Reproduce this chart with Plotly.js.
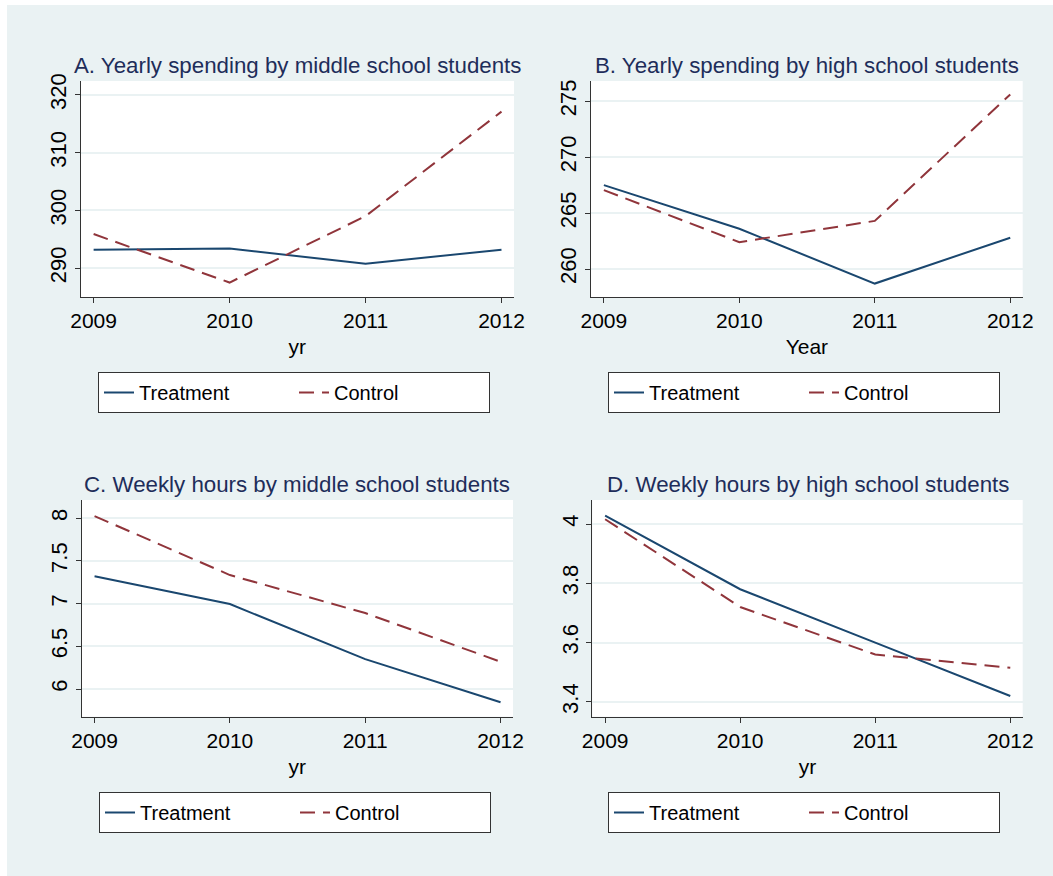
<!DOCTYPE html>
<html>
<head>
<meta charset="utf-8">
<script src="https://cdn.plot.ly/plotly-3.0.1.min.js"></script>
<style>html,body{margin:0;padding:0;background:#fff;}#chart{width:1053px;height:876px;}</style>
</head>
<body>
<div id="chart"></div>
<script>
// ---- data ----
var years = [2009, 2010, 2011, 2012];
var spendMiddleTreat = [293.2, 293.4, 290.75, 293.2];
var spendMiddleCtrl  = [295.9, 287.5, 299.0, 317.1];
var spendHighTreat   = [267.5, 263.6, 258.7, 262.8];
var spendHighCtrl    = [267.05, 262.4, 264.3, 275.6];
var hoursMiddleTreat = [7.32, 6.995, 6.35, 5.845];
var hoursMiddleCtrl  = [8.026, 7.335, 6.89, 6.32];
var hoursHighTreat   = [4.028, 3.78, 3.6, 3.42];
var hoursHighCtrl    = [4.016, 3.72, 3.56, 3.515];

var panelTitles = ["A. Yearly spending by middle school students",
                   "B. Yearly spending by high school students",
                   "C. Weekly hours by middle school students",
                   "D. Weekly hours by high school students"];
var xTitles = ["yr", "Year", "yr", "yr"];
var yTicksA = [290, 300, 310, 320];
var yTicksB = [260, 265, 270, 275];
var yTicksC = [6, 6.5, 7, 7.5, 8];
var yTicksD = [3.4, 3.6, 3.8, 4];
var seriesNames = ["Treatment", "Control"];

// ---- styling ----
var FONT = "Liberation Sans, Arial, Helvetica, sans-serif";
var BG = "#EAF2F3";
var TREAT = "#1a476f";
var CTRL = "#90353b";
var W = 1053, H = 876;

var treatSets = [spendMiddleTreat, spendHighTreat, hoursMiddleTreat, hoursHighTreat];
var ctrlSets  = [spendMiddleCtrl, spendHighCtrl, hoursMiddleCtrl, hoursHighCtrl];
var legendIds = ["legend", "legend2", "legend3", "legend4"];

var data = [];
for (var i = 0; i < 4; i++) {
  var ax = i === 0 ? "" : String(i + 1);
  data.push({x: years, y: treatSets[i], type: "scatter", mode: "lines",
    name: seriesNames[0], xaxis: "x" + ax, yaxis: "y" + ax, legend: legendIds[i],
    line: {color: TREAT, width: 2}, hoverinfo: "x+y"});
  data.push({x: years, y: ctrlSets[i], type: "scatter", mode: "lines",
    name: seriesNames[1], xaxis: "x" + ax, yaxis: "y" + ax, legend: legendIds[i],
    line: {color: CTRL, width: 2, dash: "15px,8px"}, hoverinfo: "x+y"});
}

// pixel geometry -> paper
function px(x) { return x / W; }
function py(y) { return 1 - y / H; }
var doms = [
  {x: [px(80.7), px(514)],   y: [py(297), py(81)]},
  {x: [px(591), px(1022.7)], y: [py(297), py(81)]},
  {x: [px(81.7), px(513)],   y: [py(716.7), py(500)]},
  {x: [px(592.3), px(1022.7)], y: [py(716.7), py(500)]}
];
var yRanges = [[285.0, 322.4], [257.5, 276.8], [5.676, 8.214], [3.35, 4.081]];
var yTicks = [yTicksA, yTicksB, yTicksC, yTicksD];
var xRange = [2008.905, 2012.092];

var layout = {
  width: W, height: H,
  margin: {l: 0, r: 0, t: 0, b: 0},
  paper_bgcolor: BG,
  plot_bgcolor: "#ffffff",
  font: {family: FONT, color: "#000", size: 20},
  showlegend: true,
  annotations: [],
  shapes: [
    {type: "rect", xref: "paper", yref: "paper", x0: 0, x1: 1, y0: py(5), y1: 1,
     fillcolor: "#ffffff", line: {width: 0}, layer: "below"},
    {type: "rect", xref: "paper", yref: "paper", x0: 0, x1: px(7), y0: 0, y1: 1,
     fillcolor: "#ffffff", line: {width: 0}, layer: "below"}
  ]
};

var legendPos = [[px(98), py(372)], [px(608), py(372)], [px(99), py(792)], [px(608), py(792)]];
var titleY = [65, 65, 485, 485];

for (var j = 0; j < 4; j++) {
  var sfx = j === 0 ? "" : String(j + 1);
  layout["xaxis" + sfx] = {
    domain: doms[j].x, anchor: "y" + sfx, range: xRange,
    tickvals: years, ticktext: years.map(String),
    ticks: "outside", ticklen: 5, tickwidth: 1, tickcolor: "#333",
    showline: true, linecolor: "#333", linewidth: 1,
    showgrid: false, zeroline: false, fixedrange: true,
    tickfont: {family: FONT, size: 21, color: "#000"},
    title: {text: xTitles[j], font: {family: FONT, size: 21, color: "#000"}, standoff: 8}
  };
  layout["yaxis" + sfx] = {
    domain: doms[j].y, anchor: "x" + sfx, range: yRanges[j],
    tickvals: yTicks[j], ticks: "outside", ticklen: 5, tickwidth: 1, tickcolor: "#333",
    showline: true, linecolor: "#333", linewidth: 1,
    showgrid: true, gridcolor: BG, gridwidth: 2, zeroline: false, fixedrange: true,
    tickangle: -90,
    tickfont: {family: FONT, size: 22, color: "#000"}
  };
  layout.annotations.push({
    text: panelTitles[j], xref: "paper", yref: "paper",
    x: (doms[j].x[0] + doms[j].x[1]) / 2, y: py(titleY[j]),
    xanchor: "center", yanchor: "middle", showarrow: false,
    font: {family: FONT, size: 22.3, color: "#1e2d5a"}
  });
  layout[legendIds[j]] = {
    x: legendPos[j][0], y: legendPos[j][1], xanchor: "left", yanchor: "top",
    orientation: "h", bgcolor: "#ffffff", bordercolor: "#333", borderwidth: 1,
    font: {family: FONT, size: 20, color: "#000"},
    entrywidth: 150, entrywidthmode: "pixels",
    itemclick: false, itemdoubleclick: false
  };
}

Plotly.newPlot("chart", data, layout, {displayModeBar: false, staticPlot: true});
</script>
</body>
</html>
